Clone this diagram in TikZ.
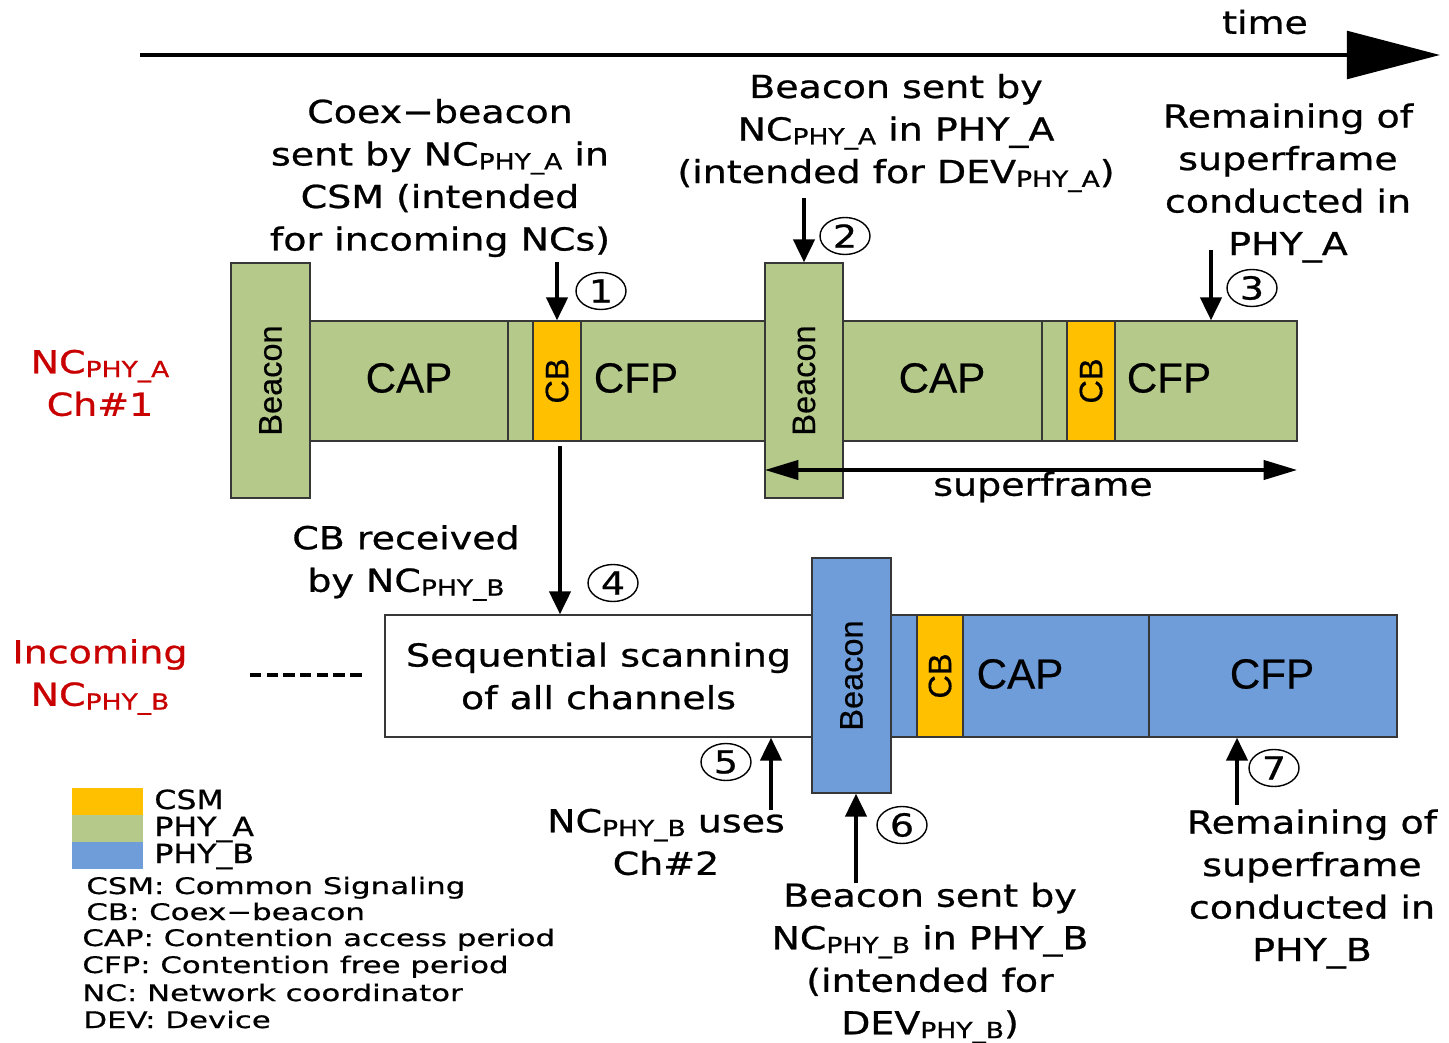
\documentclass[tikz,border=0pt]{standalone}
\usepackage{fontspec}
\setmainfont{DejaVu Sans}
\newfontfamily\lblfont[FakeStretch=1.2,FakeBold=0.8]{DejaVu Sans}
\newfontfamily\lgdfont[FakeStretch=1.35,FakeBold=0.6]{DejaVu Sans}
\newfontfamily\boxfont[FakeBold=0.4]{Liberation Sans}
\usetikzlibrary{arrows.meta,shapes.geometric}
\definecolor{phyA}{RGB}{180,201,138}
\definecolor{phyB}{RGB}{111,157,217}
\definecolor{csm}{RGB}{255,192,0}
\definecolor{ncred}{RGB}{200,0,0}
\definecolor{edge}{RGB}{55,55,55}
\newcommand{\sbs}[1]{\raisebox{-0.12em}{\fontsize{12.6}{13}\selectfont #1}}
\def\px{0.02cm}
\begin{document}
\begin{tikzpicture}[x=0.02cm,y=-0.02cm,
  seg/.style={draw=edge,line width=0.8pt,inner sep=0},
  lbl/.style={font=\lblfont\fontsize{18}{24.2}\selectfont,align=center,inner sep=0},
  redlbl/.style={lbl,text=ncred},
  boxtxt/.style={font=\boxfont\fontsize{24}{24}\selectfont,inner sep=0},
  vtxt/.style={font=\boxfont\fontsize{18.5}{18.5}\selectfont,rotate=90,inner sep=0},
  num/.style={draw,ellipse,line width=0.8pt,minimum width=50*\px,minimum height=37*\px,inner sep=0,font=\lblfont\fontsize{18}{18}\selectfont},
  arr/.style={line width=2.2pt,-{Triangle[width=12pt,length=13pt]}},
  lgdlbl/.style={font=\lblfont\fontsize{15}{15}\selectfont,inner sep=0,anchor=base west},
  deflbl/.style={font=\lgdfont\fontsize{13}{13}\selectfont,inner sep=0,anchor=base west}
]
\useasboundingbox (0,0) rectangle (1449,1043);

% time axis
\coordinate (tS) at (140,55);
\coordinate (tE) at (1440,55);
\draw[line width=2.5pt,-{Triangle[width=27pt,length=53pt]}] (tS) -- (tE);
\node[lbl] (time) at (1265,22) {time};

% ---------- Row A ----------
\node[seg,fill=phyA,minimum width=198*\px,minimum height=120*\px] (capA1) at (409,381) {};
\node[seg,fill=phyA,minimum width=25*\px,minimum height=120*\px] (gapA1) at (520.5,381) {};
\node[seg,fill=csm,minimum width=48*\px,minimum height=120*\px] (cbA1) at (557,381) {};
\node[seg,fill=phyA,minimum width=184*\px,minimum height=120*\px] (cfpA1) at (673,381) {};
\node[seg,fill=phyA,minimum width=199*\px,minimum height=120*\px] (capA2) at (942.5,381) {};
\node[seg,fill=phyA,minimum width=25*\px,minimum height=120*\px] (gapA2) at (1054.5,381) {};
\node[seg,fill=csm,minimum width=48*\px,minimum height=120*\px] (cbA2) at (1091,381) {};
\node[seg,fill=phyA,minimum width=182*\px,minimum height=120*\px] (cfpA2) at (1206,381) {};
\node[seg,fill=phyA,minimum width=79*\px,minimum height=235*\px] (bA1) at (270.5,380.5) {};
\node[seg,fill=phyA,minimum width=78*\px,minimum height=235*\px] (bA2) at (804,380.5) {};

\node[vtxt] (tbA1) at (bA1.center) {Beacon};
\node[vtxt] (tbA2) at (bA2.center) {Beacon};
\node[boxtxt] (tcapA1) at (409,378) {CAP};
\node[boxtxt] (tcapA2) at (942,378) {CAP};
\node[vtxt] (tcbA1) at (cbA1.center) {CB};
\node[vtxt] (tcbA2) at (cbA2.center) {CB};
\node[boxtxt] (tcfpA1) at (636,378) {CFP};
\node[boxtxt] (tcfpA2) at (1169,378) {CFP};

% superframe
\coordinate (sfL) at (765,470);
\coordinate (sfR) at (1297,470);
\draw[line width=1.8pt,{Triangle[width=11pt,length=19pt]}-{Triangle[width=11pt,length=19pt]}] (sfL) -- (sfR);
\node[lbl] (sf) at (1043,487) {superframe};

% ---------- Row B ----------
\node[seg,fill=white,minimum width=427*\px,minimum height=122*\px,lbl] (scan) at (598.5,676) {Sequential scanning\\of all channels};
\node[seg,fill=phyB,minimum width=26*\px,minimum height=122*\px] (gapB) at (904,676) {};
\node[seg,fill=csm,minimum width=46*\px,minimum height=122*\px] (cbB) at (940,676) {};
\node[seg,fill=phyB,minimum width=186*\px,minimum height=122*\px] (capB) at (1056,676) {};
\node[seg,fill=phyB,minimum width=248*\px,minimum height=122*\px] (cfpB) at (1273,676) {};
\node[seg,fill=phyB,minimum width=79*\px,minimum height=235*\px] (bB) at (851.5,675.5) {};
\node[vtxt] (tbB) at (bB.center) {Beacon};
\node[vtxt] (tcbB) at (cbB.center) {CB};
\node[boxtxt] (tcapB) at (1020,674) {CAP};
\node[boxtxt] (tcfpB) at (1272,674) {CFP};

% dashes before incoming
\coordinate (dS) at (250,675);
\coordinate (dE) at (362,675);
\draw[line width=2pt,dash pattern=on 6.5pt off 3pt] (dS) -- (dE);

% ---------- labels ----------
\node[lbl] (lCoex) at (440,178) {Coex−beacon\\sent by NC\sbs{PHY\_A} in\\CSM (intended\\for incoming NCs)};
\node[lbl] (lBA) at (896,133) {Beacon sent by\\NC\sbs{PHY\_A} in PHY\_A\\(intended for DEV\sbs{PHY\_A})};
\node[lbl] (lRemA) at (1288,183) {Remaining of\\superframe\\conducted in\\PHY\_A};
\node[lbl] (lCBrx) at (406,563) {CB received\\by NC\sbs{PHY\_B}};
\node[redlbl] (lNCA) at (100,383) {NC\sbs{PHY\_A}\\Ch\#1};
\node[redlbl] (lInc) at (100,677) {Incoming\\NC\sbs{PHY\_B}};
\node[lbl] (lUses) at (666,842) {NC\sbs{PHY\_B} uses\\Ch\#2};
\node[lbl] (lBB) at (930,963) {Beacon sent by\\NC\sbs{PHY\_B} in PHY\_B\\(intended for\\DEV\sbs{PHY\_B})};
\node[lbl] (lRemB) at (1312,889) {Remaining of\\superframe\\conducted in\\PHY\_B};

% ---------- numbered markers ----------
\node[num] (n1) at (601,291) {1};
\node[num] (n2) at (845,236) {2};
\node[num] (n3) at (1252,288) {3};
\node[num] (n4) at (613,583) {4};
\node[num] (n5) at (726,762) {5};
\node[num] (n6) at (902,825) {6};
\node[num] (n7) at (1274,768) {7};

% ---------- arrows ----------
\coordinate (a1s) at (557,262);
\draw[arr] (a1s) -- (cbA1.north);
\coordinate (a2s) at (804,198);
\draw[arr] (a2s) -- (bA2.north);
\coordinate (a3s) at (1211,250);
\draw[arr] (a3s) -- (a3s |- cfpA2.north);
\coordinate (a4s) at (560,446);
\draw[arr] (a4s) -- (a4s |- scan.north);
\coordinate (a5s) at (771,810);
\draw[arr] (a5s) -- (a5s |- scan.south);
\coordinate (a6s) at (856,883);
\draw[arr] (a6s) -- (a6s |- bB.south);
\coordinate (a7s) at (1237,805);
\draw[arr] (a7s) -- (a7s |- cfpB.south);

% ---------- legend ----------
\node[fill=csm,minimum width=71*\px,minimum height=27*\px,inner sep=0] (kCSM) at (107.5,801.5) {};
\node[fill=phyA,minimum width=71*\px,minimum height=27*\px,inner sep=0] (kA) at (107.5,828.5) {};
\node[fill=phyB,minimum width=71*\px,minimum height=27*\px,inner sep=0] (kB) at (107.5,855.5) {};
\node[lgdlbl] (kCSMt) at (154,809) {CSM};
\node[lgdlbl] (kAt) at (154,836) {PHY\_A};
\node[lgdlbl] (kBt) at (154,863) {PHY\_B};

\node[deflbl] (d1) at (86,894) {CSM: Common Signaling};
\node[deflbl] (d2) at (86,920) {CB: Coex−beacon};
\node[deflbl] (d3) at (82,946) {CAP: Contention access period};
\node[deflbl] (d4) at (82,973) {CFP: Contention free period};
\node[deflbl] (d5) at (82,1001) {NC: Network coordinator};
\node[deflbl] (d6) at (83,1028) {DEV: Device};
\end{tikzpicture}
\end{document}
